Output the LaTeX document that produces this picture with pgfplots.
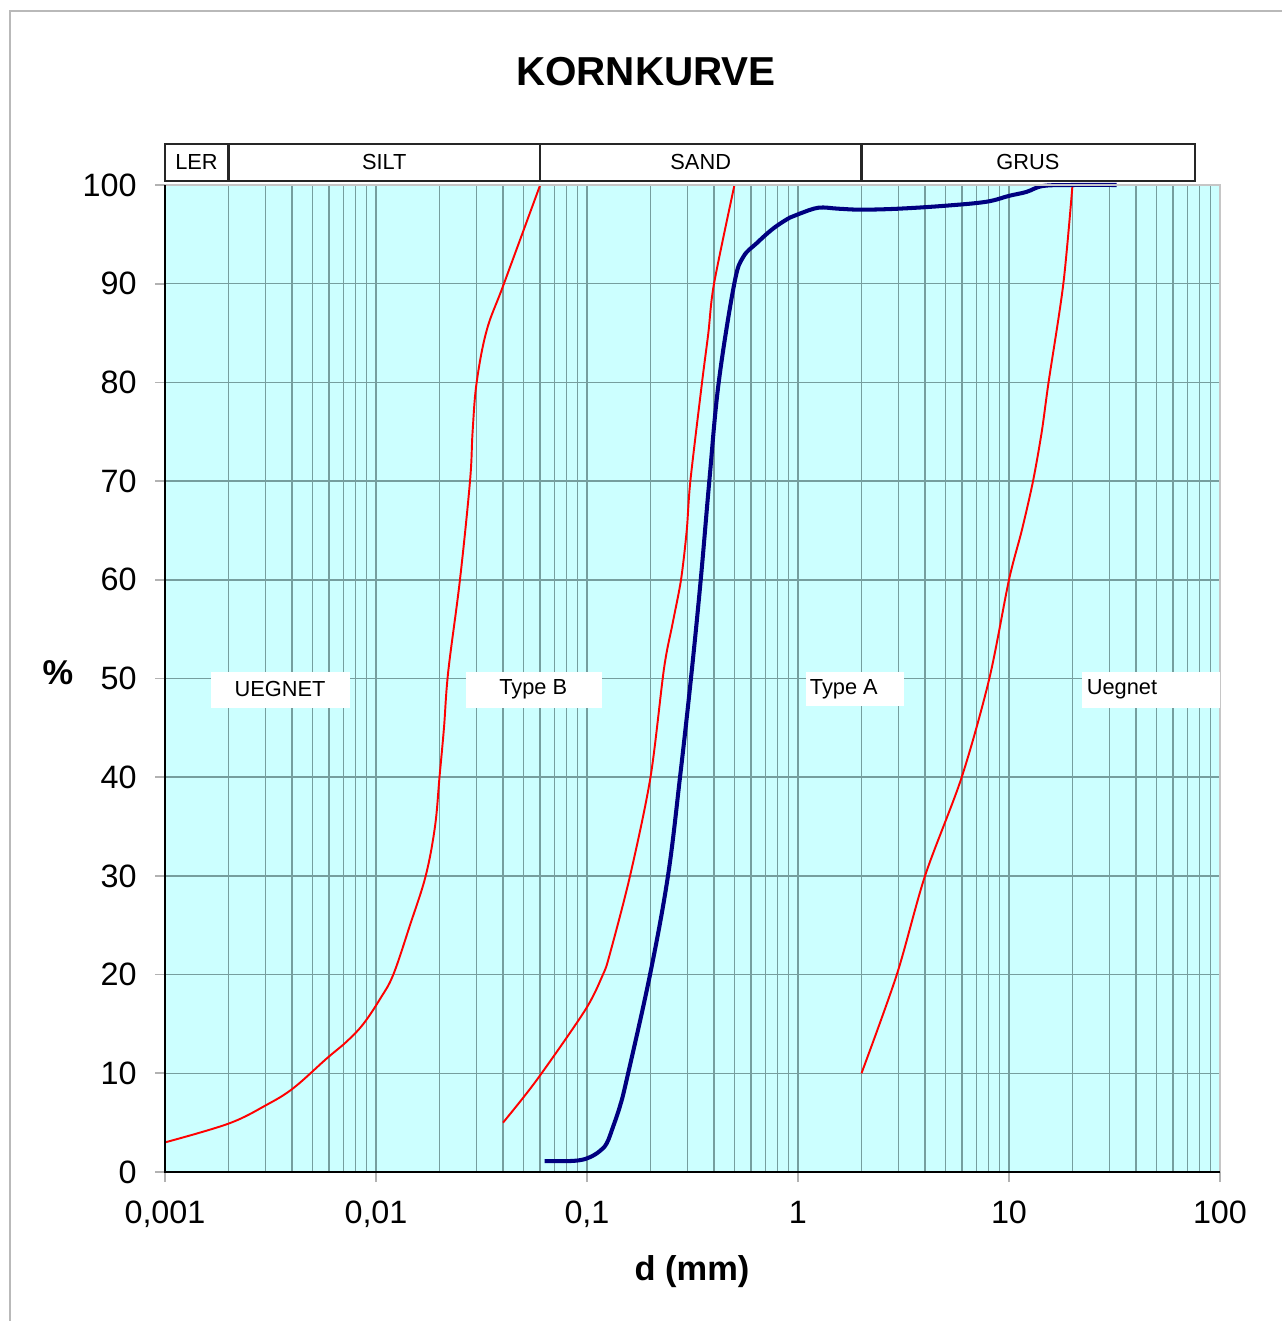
\documentclass[border=0pt]{standalone}
\usepackage{fontspec}
\setmainfont{Liberation Sans}
\usepackage{pgfplots}
\pgfplotsset{compat=1.18}

\definecolor{plotbg}{RGB}{204,255,255}
\definecolor{gridc}{RGB}{118,158,158}
\definecolor{navy}{RGB}{0,0,128}

% grading curves, d in mm against % passing
\pgfplotstableread{
d p
0.001 3.0
0.0020 4.9
0.00303 6.8
0.00406 8.5
0.00584 11.5
0.00725 13.2
0.00871 15.0
0.01050 17.6
0.01208 20.0
0.01449 25.0
0.0172 30.0
0.01904 35.0
0.0200 40.0
0.0210 45.0
0.0220 50.7
0.0250 60.0
0.0279 70.0
0.0287 75.0
0.0300 80.0
0.0335 85.3
0.0404 90.0
0.0600 100.0
}\limitleft

\pgfplotstableread{
d p
0.040 5.0
0.0577 9.3
0.098 16.4
0.119 20.0
0.128 22.0
0.160 30.0
0.200 40.0
0.2317 51.0
0.2547 55.6
0.279 60.0
0.297 65.0
0.309 70.0
0.351 80.0
0.376 85.0
0.400 90.0
0.500 100.0
}\limitmid

\pgfplotstableread{
d p
2.0 10.0
2.94 20.0
4.0 30.0
5.97 40.0
8.07 50.0
10.0 60.0
11.5 65.0
13.0 70.0
14.3 75.0
15.4 80.0
18.1 90.0
20.0 100.0
}\limitright

\pgfplotstableread{
d p
0.0630 1.1
0.080 1.1
0.0927 1.2
0.1033 1.5
0.1147 2.1
0.124 2.9
0.133 4.6
0.143 6.6
0.154 9.3
0.199 20.0
0.242 30.0
0.276 40.0
0.311 50.0
0.346 60.0
0.380 70.0
0.421 80.0
0.499 90.0
0.550 92.7
0.637 94.1
0.764 95.6
0.916 96.7
1.02 97.1
1.25 97.7
1.55 97.6
2.0 97.5
3.0 97.6
5.0 97.9
7.8 98.3
10.0 98.9
12.1 99.3
14.5 99.9
20.0 100.0
32.4 100.0
}\sample

\begin{document}
\begin{tikzpicture}
\useasboundingbox (-1.65,-1.49) rectangle (11.17,11.72);
\draw[gray!55, line width=0.4pt] (-1.55,-1.6) -- (-1.55,11.61) -- (11.3,11.61);

\begin{axis}[
  at={(0,0)}, anchor=south west,
  scale only axis,
  width=10.55cm, height=9.87cm,
  xmode=log,
  xmin=0.001, xmax=100,
  ymin=0, ymax=100,
  clip=false,
  axis line style={draw=none},
  axis background/.style={fill=plotbg},
  xtick={0.001,0.01,0.1,1,10,100},
  xticklabels={{0,001},{0,01},{0,1},1,10,100},
  minor xtick={0.002,0.003,0.004,0.005,0.006,0.007,0.008,0.009,
               0.02,0.03,0.04,0.05,0.06,0.07,0.08,0.09,
               0.2,0.3,0.4,0.5,0.6,0.7,0.8,0.9,
               2,3,4,5,6,7,8,9,
               20,30,40,50,60,70,80,90},
  ytick={0,10,...,100},
  /pgf/number format/assume math mode=true,
  xmajorgrids, xminorgrids, ymajorgrids,
  major grid style={draw=gridc, line width=0.4pt},
  minor grid style={draw=gridc, line width=0.4pt},
  tick pos=left,
  tick align=outside,
  major tick length=1mm,
  minor tick length=0pt,
  tick style={draw=gray!60, line width=0.5pt},
  ticklabel style={font=\fontsize{9.2}{11}\selectfont},
  yticklabel style={xshift=-0.6mm},
  xticklabel style={yshift=-0.7mm},
]
\addplot[red, line width=0.55pt, smooth, tension=0.6] table {\limitleft};
\addplot[red, line width=0.55pt, smooth, tension=0.5] table {\limitmid};
\addplot[red, line width=0.55pt, smooth, tension=0.5] table {\limitright};
\addplot[navy, line width=1.15pt, smooth, tension=0.6] table {\sample};

% axis frame
\draw[gray!45, line width=0.6pt] (rel axis cs:0,1) -- (rel axis cs:1,1) -- (rel axis cs:1,0);
\draw[black, line width=0.8pt] (rel axis cs:0,1) -- (rel axis cs:0,0) -- (rel axis cs:1,0);

% fraction bands above the plot
\begin{scope}[every node/.style={font=\fontsize{6.2}{7}\selectfont}]
\draw[black!85, line width=0.6pt]
  (axis cs:0.001,100.4) rectangle (axis cs:0.002,104.15)
  (axis cs:0.002,100.4) rectangle (axis cs:0.06,104.15)
  (axis cs:0.06,100.4) rectangle (axis cs:2,104.15)
  (axis cs:2,100.4) rectangle (axis cs:76,104.15);
\node at (axis cs:0.00141,102.3) {LER};
\node at (axis cs:0.01095,102.3) {SILT};
\node at (axis cs:0.346,102.3) {SAND};
\node at (axis cs:12.3,102.3) {GRUS};

% suitability labels
\fill[white] (axis cs:0.00165,47.0) rectangle (axis cs:0.00753,50.66);
\fill[white] (axis cs:0.0267,47.0) rectangle (axis cs:0.1178,50.66);
\fill[white] (axis cs:1.091,47.2) rectangle (axis cs:3.18,50.66);
\fill[white] (axis cs:22.2,47.0) rectangle (axis cs:100,50.66);
\node at (axis cs:0.00351,48.9) {UEGNET};
\node at (axis cs:0.0556,48.9) {Type B};
\node[anchor=west, inner sep=0pt] at (axis cs:1.13,48.95) {Type A};
\node[anchor=west, inner sep=0pt] at (axis cs:23.2,48.9) {Uegnet};
\end{scope}
\end{axis}

\node[font=\fontsize{11.5}{13}\bfseries] at (4.81,11.0) {KORNKURVE};
\node[font=\fontsize{9.8}{12}\bfseries] at (-1.07,4.99) {\%};
\node[font=\fontsize{9.8}{12}\bfseries] at (5.27,-1.0) {d (mm)};
\end{tikzpicture}
\end{document}
